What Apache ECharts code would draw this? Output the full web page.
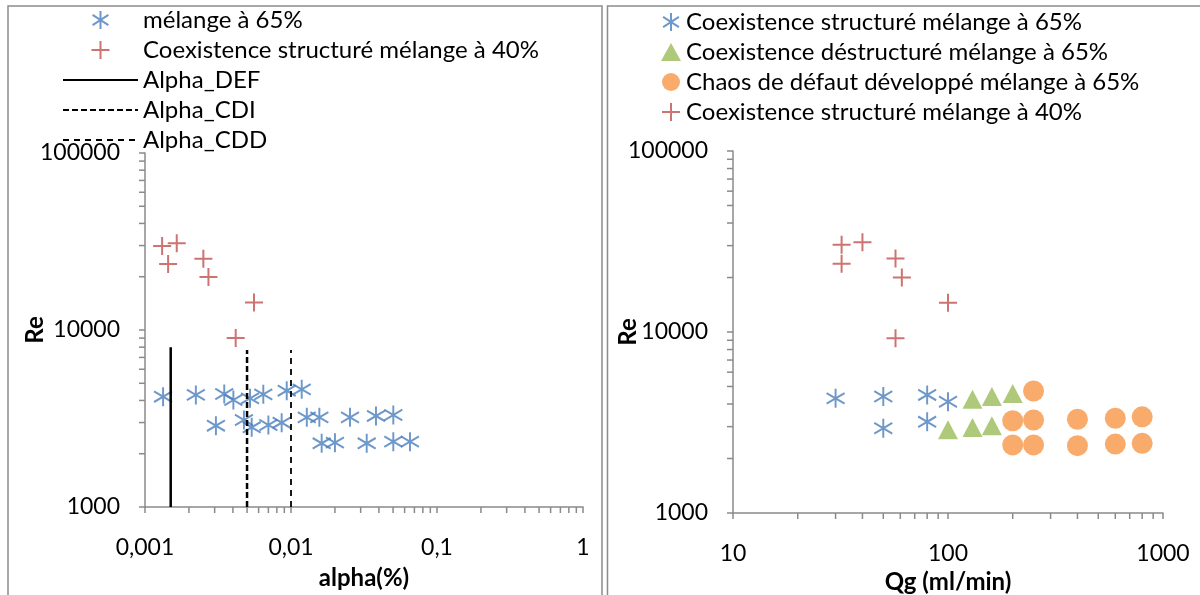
<!DOCTYPE html>
<html>
<head>
<meta charset="utf-8">
<script src="https://cdn.jsdelivr.net/npm/echarts@6/dist/echarts.min.js"></script>
<style>
  html, body { margin: 0; padding: 0; background: #fff; }
  #main { width: 1200px; height: 595px; }
</style>
</head>
<body>
<div id="main"></div>
<script>
// left panel: Re vs alpha(%)
var blueAlpha = [0.00133, 0.00223, 0.00349, 0.00403, 0.00524, 0.00646, 0.00935, 0.01184,
  0.00306, 0.00476, 0.00538, 0.0070, 0.00863, 0.01283, 0.01564, 0.02536, 0.0382, 0.0502,
  0.01622, 0.0200, 0.0330, 0.0502, 0.0653];
var blueRe = [4200, 4300, 4350, 4025, 4110, 4330, 4540, 4620,
  2880, 3100, 2820, 2905, 2995, 3210, 3210, 3210, 3270, 3310,
  2290, 2310, 2290, 2340, 2340];
var redAlpha = [0.00131, 0.00165, 0.00144, 0.00251, 0.00272, 0.00558, 0.00418];
var redRe = [29850, 30900, 23600, 25300, 19900, 14300, 9000];
var alphaDEF = 0.0015, alphaCDI = 0.005, alphaCDD = 0.01;
var lineRe = [1000, 8000, 7700, 7700]; // bottom, DEF top, CDI top, CDD top

// right panel: Re vs Qg (ml/min)
var structQg = [30, 50, 80, 100, 50, 80];
var structRe = [4300, 4400, 4490, 4120, 2940, 3190];
var destructQg = [130, 160, 200, 100, 130, 160];
var destructRe = [4250, 4400, 4580, 2880, 2970, 3030];
var chaosQg = [250, 200, 250, 400, 600, 800, 200, 250, 400, 600, 800];
var chaosRe = [4720, 3235, 3265, 3295, 3337, 3400, 2377, 2377, 2355, 2404, 2425];
var red40Qg = [32, 40, 32, 57, 61, 100, 57];
var red40Re = [30300, 31300, 23800, 25500, 20000, 14500, 9230];

// minor tick positions (log axes)
var minorMult = [2, 3, 4, 5, 6, 7, 8, 9];
var alphaDecades = [0.001, 0.01, 0.1];
var qgDecades = [10, 100];
var reDecades = [1000, 10000];

var FONT = 'Lato';
var axisGray = '#8a8a8a';
var starPath = 'path://M50,0 L50,100 M6,22 L94,78 M94,22 L6,78';
var plusPath = 'path://M0,50 L100,50 M50,0 L50,100';

function zip(a, b) {
  return a.map(function (v, i) { return [v, b[i]]; });
}
function minorVals(decades) {
  var out = [];
  decades.forEach(function (d) {
    minorMult.forEach(function (m) { out.push(+(d * m).toPrecision(3)); });
  });
  return out;
}

var myChart = echarts.init(document.getElementById('main'));

function xMinorTicks(xi, decades, yMin) {
  return {
    type: 'custom', xAxisIndex: xi, yAxisIndex: xi, silent: true, z: 1,
    data: minorVals(decades).map(function (v) { return [v, yMin]; }),
    renderItem: function (params, api) {
      var p = api.coord([api.value(0), api.value(1)]);
      return { type: 'line', shape: { x1: p[0], y1: p[1], x2: p[0], y2: p[1] + 6 },
        style: { stroke: axisGray, lineWidth: 1.5 } };
    }
  };
}
function yMinorTicks(xi, xMin) {
  return {
    type: 'custom', xAxisIndex: xi, yAxisIndex: xi, silent: true, z: 1,
    data: minorVals(reDecades).map(function (v) { return [xMin, v]; }),
    renderItem: function (params, api) {
      var p = api.coord([api.value(0), api.value(1)]);
      return { type: 'line', shape: { x1: p[0], y1: p[1], x2: p[0] - 6, y2: p[1] },
        style: { stroke: axisGray, lineWidth: 1.5 } };
    }
  };
}

function plain(v) { return String(v); }

function logX(idx, min, max, name, gap, fmt) {
  return {
    type: 'log', logBase: 10, gridIndex: idx, min: min, max: max,
    name: name, nameLocation: 'middle', nameGap: gap,
    nameTextStyle: { fontFamily: FONT, fontSize: 24, fontWeight: 'bold', color: '#000' },
    axisLine: { lineStyle: { color: axisGray, width: 1.5 } },
    axisTick: { show: true, length: 6, lineStyle: { color: axisGray, width: 1.5 } },
    axisLabel: { fontFamily: FONT, fontSize: 23, color: '#000', margin: 29, formatter: fmt },
    splitLine: { show: false }
  };
}
function logY(idx, gap) {
  return {
    type: 'log', logBase: 10, gridIndex: idx, min: 1000, max: 100000,
    name: 'Re', nameLocation: 'middle', nameGap: gap, nameMoveOverlap: false,
    nameTextStyle: { fontFamily: FONT, fontSize: 24, fontWeight: 'bold', color: '#000' },
    axisLine: { lineStyle: { color: axisGray, width: 1.5 } },
    axisTick: { show: true, length: 6, lineStyle: { color: axisGray, width: 1.5 } },
    axisLabel: { fontFamily: FONT, fontSize: 23, color: '#000', margin: 25, formatter: plain },
    splitLine: { show: false }
  };
}

var hideDot = { opacity: 0 };

var option = {
  animation: false,
  backgroundColor: '#fff',
  graphic: [
    { type: 'rect', shape: { x: 8, y: 6, width: 594, height: 600 },
      style: { fill: 'none', stroke: '#8c8c8c', lineWidth: 1.5 }, silent: true },
    { type: 'rect', shape: { x: 607.5, y: 6, width: 600, height: 600 },
      style: { fill: 'none', stroke: '#8c8c8c', lineWidth: 1.5 }, silent: true }
  ],
  grid: [
    { left: 145, top: 153, width: 438, height: 354, outerBoundsMode: 'none' },
    { left: 733, top: 151, width: 430, height: 362, outerBoundsMode: 'none' }
  ],
  legend: [
    {
      orient: 'vertical', left: 57, top: 3, itemWidth: 75, itemHeight: 18, itemGap: 6,
      textStyle: { fontFamily: FONT, fontSize: 24, color: '#000' },
      data: ['mélange à 65%', 'Coexistence structuré mélange à 40%',
        { name: 'Alpha_DEF', itemStyle: hideDot },
        { name: 'Alpha_CDI', itemStyle: hideDot },
        { name: 'Alpha_CDD', itemStyle: hideDot }]
    },
    {
      orient: 'vertical', left: 656, top: 5, itemWidth: 20, itemHeight: 18, itemGap: 6,
      textStyle: { fontFamily: FONT, fontSize: 24, color: '#000' },
      data: ['Coexistence structuré mélange à 65%', 'Coexistence déstructuré mélange à 65%',
        'Chaos de défaut développé mélange à 65%', 'Coexistence structuré mélange à 40%']
    }
  ],
  xAxis: [
    logX(0, 0.001, 1, 'alpha(%)', 59, function (v) { return String(v).replace('.', ','); }),
    logX(1, 10, 1000, 'Qg (ml/min)', 54, plain)
  ],
  yAxis: [logY(0, 98), logY(1, 93)],
  series: [
    xMinorTicks(0, alphaDecades, 1000),
    yMinorTicks(0, 0.001),
    xMinorTicks(1, qgDecades, 1000),
    yMinorTicks(1, 10),
    {
      name: 'Alpha_DEF', type: 'line', xAxisIndex: 0, yAxisIndex: 0, symbol: 'none',
      data: [[alphaDEF, lineRe[0]], [alphaDEF, lineRe[1]]],
      lineStyle: { color: '#000', width: 2.5, type: 'solid' }, itemStyle: { color: '#000' }
    },
    {
      name: 'Alpha_CDI', type: 'line', xAxisIndex: 0, yAxisIndex: 0, symbol: 'none',
      data: [[alphaCDI, lineRe[0]], [alphaCDI, lineRe[2]]],
      lineStyle: { color: '#000', width: 2.5, type: [6, 3] }, itemStyle: { color: '#000' }
    },
    {
      name: 'Alpha_CDD', type: 'line', xAxisIndex: 0, yAxisIndex: 0, symbol: 'none',
      data: [[alphaCDD, lineRe[0]], [alphaCDD, lineRe[3]]],
      lineStyle: { color: '#000', width: 1.8, type: [6, 5] }, itemStyle: { color: '#000' }
    },
    {
      name: 'mélange à 65%', type: 'scatter', xAxisIndex: 0, yAxisIndex: 0,
      symbol: starPath, symbolSize: [18, 19], data: zip(blueAlpha, blueRe),
      itemStyle: { color: 'rgba(0,0,0,0)', borderColor: '#4a7ebb', borderWidth: 2 }
    },
    {
      name: 'Coexistence structuré mélange à 40%', type: 'scatter', xAxisIndex: 0, yAxisIndex: 0,
      symbol: plusPath, symbolSize: 18, data: zip(redAlpha, redRe),
      itemStyle: { color: 'rgba(0,0,0,0)', borderColor: '#c0504d', borderWidth: 2 }
    },
    {
      name: 'Coexistence structuré mélange à 65%', type: 'scatter', xAxisIndex: 1, yAxisIndex: 1,
      symbol: starPath, symbolSize: [18, 19], data: zip(structQg, structRe),
      itemStyle: { color: 'rgba(0,0,0,0)', borderColor: '#4a7ebb', borderWidth: 2 }
    },
    {
      name: 'Coexistence déstructuré mélange à 65%', type: 'scatter', xAxisIndex: 1, yAxisIndex: 1,
      symbol: 'triangle', symbolSize: [20, 19], data: zip(destructQg, destructRe),
      itemStyle: { color: '#9bbb59' }
    },
    {
      name: 'Chaos de défaut développé mélange à 65%', type: 'scatter', xAxisIndex: 1, yAxisIndex: 1,
      symbol: 'circle', symbolSize: 21, data: zip(chaosQg, chaosRe),
      itemStyle: { color: '#f79646' }
    },
    {
      name: 'Coexistence structuré mélange à 40%', type: 'scatter', xAxisIndex: 1, yAxisIndex: 1,
      symbol: plusPath, symbolSize: 18, data: zip(red40Qg, red40Re),
      itemStyle: { color: 'rgba(0,0,0,0)', borderColor: '#c0504d', borderWidth: 2 }
    }
  ]
};
myChart.setOption(option);
</script>
</body>
</html>
